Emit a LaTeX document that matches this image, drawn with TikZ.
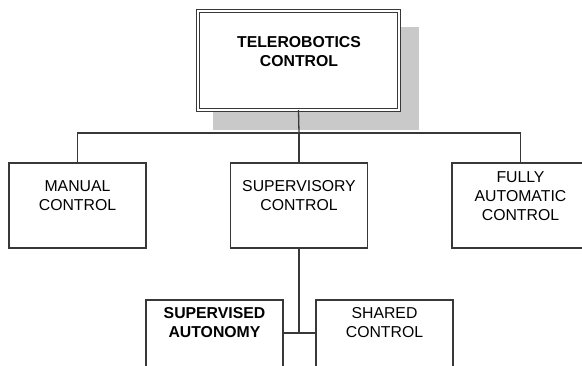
\documentclass[tikz,border=0pt]{standalone}
\usepackage{fontspec}
\setmainfont{Liberation Sans}
\begin{document}
\begin{tikzpicture}[x=1pt,y=-1pt,
  line/.style={draw=black!78,line width=1.3pt},
  box/.style={line,rectangle,inner sep=0pt,outer sep=0pt,
    minimum width=137pt,minimum height=85pt},
  caption/.style={align=center,inner sep=0pt,
    font=\fontsize{15.8}{19}\selectfont},
  boldcaption/.style={caption,font=\fontsize{15.8}{19}\selectfont\bfseries}]
\useasboundingbox (0,0) rectangle (582,365);
\clip (0,0) rectangle (582,365);

% shadow behind the root box
\fill[black!21] (213,27) rectangle (419,130);

% root box with double border
\node[rectangle,inner sep=0pt,outer sep=0pt,fill=white,
  draw=black!78,line width=1.2pt,double=white,double distance=2.2pt,
  minimum width=201pt,minimum height=99pt] (root) at (298.5,60.5) {};
\node[boldcaption] (roottxt) at (299,51.5) {TELEROBOTICS\\CONTROL};

% second level
\node[box] (manual) at (77.5,205.5) {};
\node[caption] (manualtxt) at (77.5,196) {MANUAL\\CONTROL};
\node[box] (superv) at (299,205.5) {};
\node[caption] (supervtxt) at (299,196) {SUPERVISORY\\CONTROL};
\node[box] (auto) at (520.5,205.5) {};
\node[caption] (autotxt) at (520.5,196) {FULLY\\AUTOMATIC\\CONTROL};

% third level
\node[box] (supauto) at (214.5,342.5) {};
\node[boldcaption] (supautotxt) at (214.5,323) {SUPERVISED\\AUTONOMY};
\node[box] (shared) at (384.5,342.5) {};
\node[caption] (sharedtxt) at (384.5,323) {SHARED\\CONTROL};

% connectors
\coordinate (bus) at (299,133);
\coordinate (join) at (299,333);
\draw[line] (root.south) -- (bus);
\draw[line] (manual.north) |- (bus) -| (auto.north);
\draw[line] (superv.north) -- (bus);
\draw[line] (superv.south) -- (join);
\draw[line] (supauto.east |- join) -- (shared.west |- join);
\end{tikzpicture}
\end{document}
